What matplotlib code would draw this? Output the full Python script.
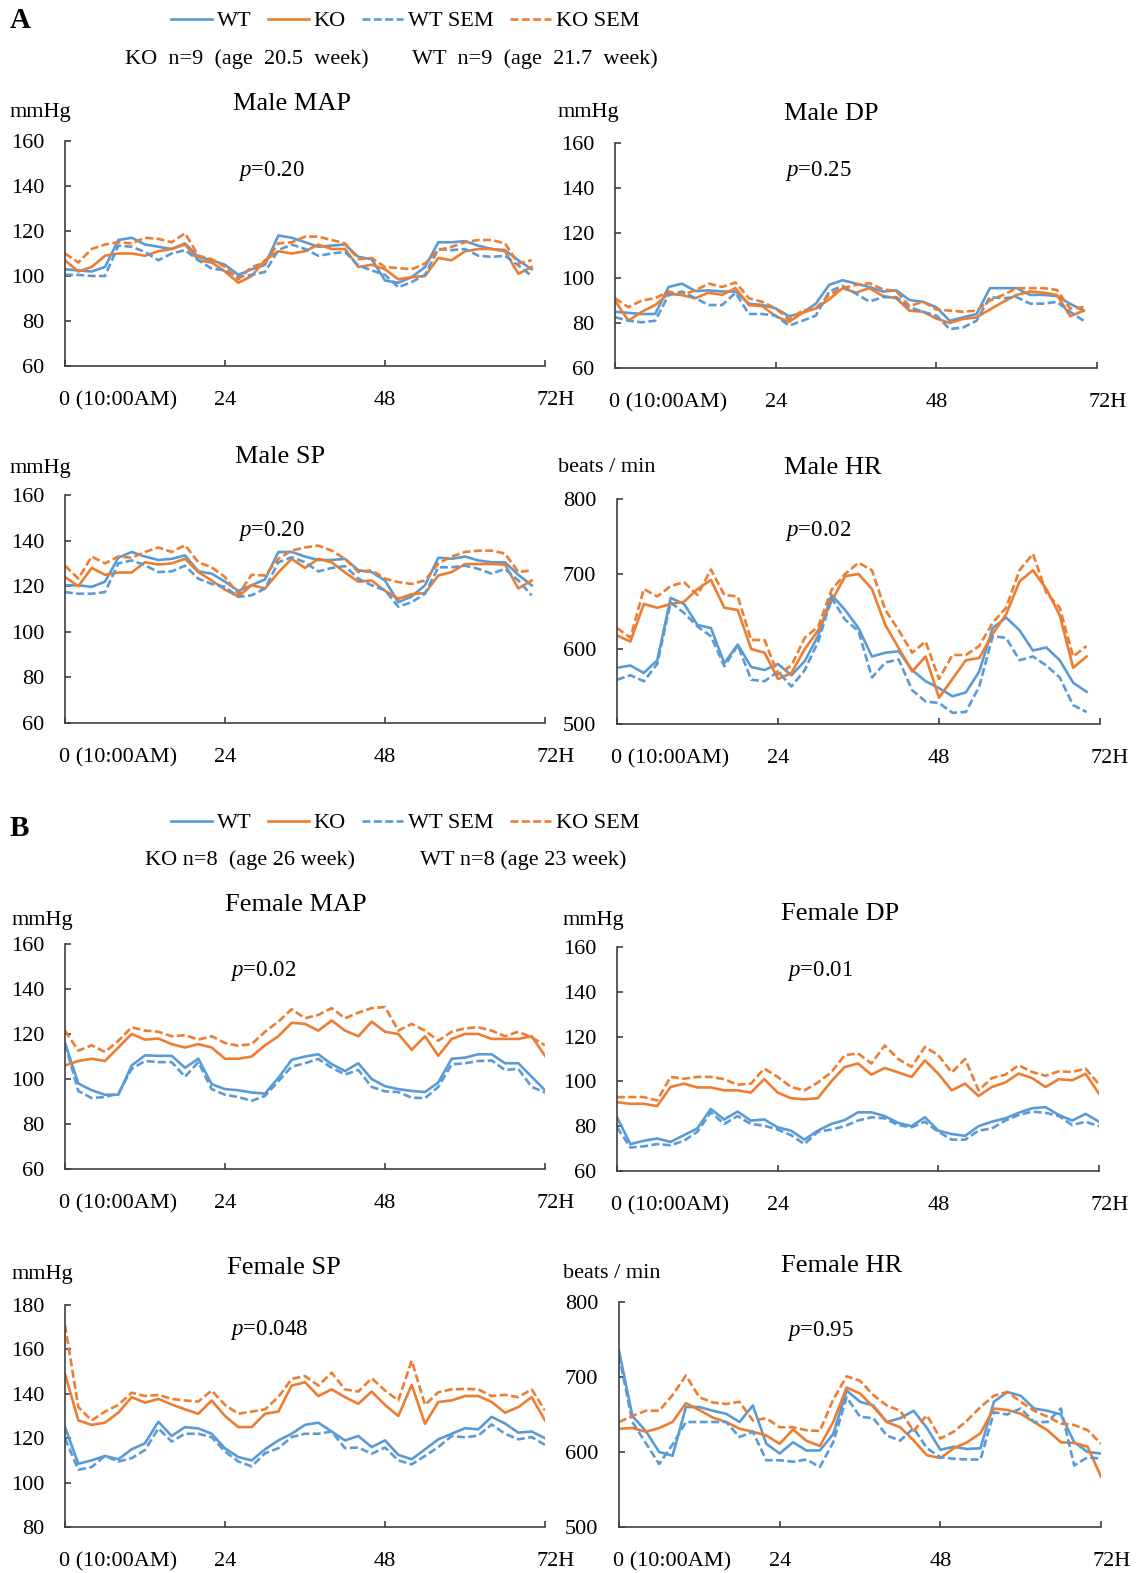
import numpy as np
import matplotlib
matplotlib.use('Agg')
import matplotlib.pyplot as plt
import matplotlib.transforms as mtransforms
from matplotlib.lines import Line2D

plt.rcParams['font.family'] = ['Liberation Serif', 'DejaVu Serif']
plt.rcParams['mathtext.fontset'] = 'custom'
plt.rcParams['mathtext.rm'] = 'Liberation Serif'
plt.rcParams['mathtext.it'] = 'Liberation Serif:italic'

# ---------------- data (hours from 10:00 AM) ----------------
hours_male = np.arange(0, 71, 2)
hours_female = np.arange(0, 73, 2)

male_map_wt = [103, 102.5, 102, 104, 116, 117, 114, 113, 112, 114.5, 108.5, 107, 105, 100.5, 103, 105, 118, 117,
               115, 113, 113.5, 114, 108.5, 107.5, 98, 97, 99.5, 104, 115, 115, 115.5, 113.5, 112, 111.5, 107, 103]
male_map_ko = [107, 102, 104, 109, 110, 110, 109, 111, 112, 114, 107, 106, 102, 97, 100, 107, 111, 110,
               111, 114, 112, 112, 104, 105, 103, 98.5, 99.5, 100, 108, 107, 111, 112, 112, 111, 101, 104]
male_map_wt_sem = [100.5, 100.5, 100, 100, 113.5, 113, 110.7, 107, 110, 111.5, 107, 103.3, 102.5, 99.6, 100.5, 101.8,
                   111.5, 114, 112, 109, 110, 110.7, 104.7, 102.5, 100.5, 95, 97.3, 100.5, 112, 111.5, 112, 109,
                   108.5, 109, 104.7, 100]
male_map_ko_sem = [110, 106, 112, 114, 115, 114.5, 117, 116.5, 115, 119, 109, 107.5, 104, 98.5, 104, 106, 114.5,
                   115, 117.5, 117.5, 116, 114.5, 107.5, 108, 104, 103.5, 103, 105.5, 111.5, 113, 115, 116, 116,
                   114.5, 105.5, 107]

male_dp_wt = [85, 84.5, 84, 84, 96, 97.5, 94.2, 94.5, 94, 94, 88.6, 88, 86.5, 83, 84.5, 88.6, 97, 99, 97.5, 96,
              94, 94.5, 90.2, 89.4, 87, 81, 82.5, 84, 95.5, 95.5, 95.5, 92.5, 92.5, 92, 88.5, 85.5]
male_dp_ko = [90, 81, 85, 88, 93, 92.4, 91, 93.5, 92.5, 95.5, 88, 87.5, 83, 80.5, 84.5, 86.5, 90.5, 95.5, 93.5,
              95.5, 92, 91, 85.5, 85, 82, 80, 81.8, 82.5, 86, 89.4, 92.5, 94, 93.5, 92.5, 83, 85.5]
male_dp_wt_sem = [82.6, 81, 80.3, 81, 92.4, 94, 91, 88, 88, 93.4, 84, 84, 83.3, 78.8, 81, 83.3, 94, 96.5, 93,
                  89.5, 91.5, 91.5, 87, 85, 83.3, 77.3, 78, 81, 91.5, 91, 91.5, 88.6, 88.6, 89.4, 85, 81]
male_dp_ko_sem = [91, 87, 90, 91, 94, 92.5, 94.5, 97.5, 96, 98, 91, 89.4, 86.5, 81.5, 85.5, 86.5, 92.5, 95.5, 97,
                  97.7, 95, 94.2, 87.5, 89.5, 86, 85.5, 85, 85.5, 90, 92.5, 95.5, 95.5, 95.5, 94.7, 86.4, 87]

male_sp_wt = [120.4, 120.4, 119.7, 122, 132.5, 135, 133, 131.5, 132, 133.5, 126.5, 125.5, 122, 118, 120.4, 123,
              135, 135, 133, 131.5, 131.5, 132, 127, 126.2, 122.5, 113, 115.5, 120.4, 132.5, 132, 133, 131.3,
              130.5, 130.5, 125, 120.4]
male_sp_ko = [124, 120, 128, 125, 126, 126, 130.5, 129.5, 130, 132, 126.2, 122.5, 118.5, 115.5, 120.5, 119, 126,
              132, 128, 132, 130.5, 126, 122, 122.5, 118, 114.5, 116.5, 117, 124.7, 126.2, 129.7, 129.7, 129.7,
              129.5, 119, 122.5]
male_sp_wt_sem = [117.4, 116.7, 116.7, 117.4, 130, 131.3, 129.2, 126.2, 126.5, 129, 123.3, 121, 119.7, 115.3, 116,
                  119, 130.5, 132.7, 130.5, 126.5, 128, 128.8, 123.3, 120.4, 118.2, 111, 113, 116.7, 128.3, 128.3,
                  129, 127.6, 125.5, 127.6, 122.5, 116]
male_sp_ko_sem = [129, 123.3, 133, 130, 133, 132.5, 135, 137, 135, 138, 130.5, 128.3, 124, 116.5, 125, 124.7, 132,
                  135.6, 137, 137.8, 135.6, 132, 126.2, 127, 123.3, 121.8, 121, 122.5, 130, 133, 135, 135.6, 135.6,
                  134.3, 126.2, 127]

male_hr_wt = [575, 578, 568, 585, 668, 660, 632, 628, 581, 606, 576, 572, 580, 565, 584, 618, 672, 652, 628, 590,
              595, 597, 572, 557, 548, 537, 542, 570, 628, 642, 625, 598, 602, 585, 555, 543]
male_hr_ko = [618, 610, 660, 655, 660, 663, 680, 692, 655, 652, 600, 595, 560, 568, 600, 625, 664, 697, 700, 680,
              632, 601, 570, 590, 535, 560, 585, 588, 620, 646, 690, 705, 680, 645, 575, 590]
male_hr_wt_sem = [559, 565, 557, 580, 662, 648, 630, 617, 577, 605, 559, 557, 570, 550, 572, 610, 668, 639, 624,
                  562, 582, 586, 545, 530, 528, 515, 516, 550, 617, 615, 585, 590, 578, 562, 525, 516]
male_hr_ko_sem = [628, 615, 680, 670, 684, 689, 672, 706, 672, 670, 612, 612, 566, 578, 615, 630, 679, 700, 715,
                  705, 652, 625, 595, 610, 560, 592, 592, 604, 635, 655, 705, 727, 675, 655, 590, 604]

female_map_wt = [116, 98, 95, 93, 93, 106, 110.5, 110.3, 110.3, 105, 109, 97.7, 95.5, 95, 94, 93.5, 100.5, 108.5,
                 110, 111, 106.6, 103.5, 107, 100, 96.8, 95.5, 94.7, 94.2, 98.5, 109, 109.5, 111, 111, 107, 107,
                 101, 95]
female_map_ko = [106, 108, 109, 108, 114, 120, 117.5, 118, 115.5, 114, 115.5, 114, 109, 109, 110, 115, 119, 125,
                 124.5, 121.5, 126, 121.5, 119, 125.5, 121, 120, 113, 119, 110.3, 117.8, 120, 120, 117.8, 117.8,
                 117.8, 119, 110.3]
female_map_wt_sem = [115.5, 94.7, 91.5, 92, 93.5, 104.5, 108, 107.5, 107.5, 101, 107.5, 95.5, 93, 92, 90.3, 92.5,
                     99, 105.5, 107, 108.9, 105, 102, 104, 96.5, 94.5, 94.2, 91.7, 91.5, 96.5, 106.5, 107, 108,
                     108.2, 104, 104.5, 96.5, 94]
female_map_ko_sem = [121.5, 112.6, 115, 112, 117, 123, 121.5, 121, 119, 119.5, 117.5, 119, 116, 114.8, 115.5, 121,
                     125.5, 131, 127, 128.5, 131.5, 127, 129.5, 131.5, 132, 121.5, 124.5, 121.5, 117, 121, 122.5,
                     123, 121.5, 119, 121, 118.5, 115]

female_dp_wt = [84, 72, 73.5, 74.5, 73, 76, 79, 87.7, 83, 86.5, 82.5, 83, 79.5, 78, 74, 78, 81, 82.7, 86.2, 86.2,
                84.5, 81.5, 80, 84, 78, 76.5, 75.7, 80, 82, 83.5, 86, 88, 88.5, 85, 82.5, 85.5, 82]
female_dp_ko = [90.7, 90, 90, 89, 97.5, 99, 97.3, 97.3, 96, 96, 95, 101, 95, 92.5, 92, 92.5, 100, 106.4, 108, 103,
                106, 104, 102, 109.4, 103.4, 96, 99, 93.5, 97.5, 99.5, 103.5, 101.5, 97.5, 101, 100.5, 103.4, 94.5]
female_dp_wt_sem = [79.5, 70.5, 71, 72, 71.5, 73.5, 77.5, 86.2, 81, 84.5, 81, 80.2, 78.5, 76, 72, 77.5, 78.5, 80,
                    82.5, 84, 83.5, 80.5, 79.5, 82, 77.5, 74, 74, 78, 79, 82.5, 85, 86.5, 86, 84.5, 80.5, 82, 80]
female_dp_ko_sem = [93, 93, 93, 91.5, 102, 101.2, 102, 102, 101, 98.5, 99, 105.7, 102, 97.5, 96, 99.5, 104, 111.7,
                    112.5, 108, 116, 110, 106.5, 115.4, 111.7, 104, 110, 96, 101.5, 103, 107.2, 104.2, 102.5,
                    104.5, 104.2, 105.7, 98.7]

female_sp_wt = [125, 108.5, 110, 112, 110.5, 115, 117.7, 127.4, 121, 125, 124.4, 122, 115.4, 111.5, 110, 115, 119,
                122, 126, 127, 123, 119, 121, 116, 119, 112.5, 110.5, 115, 119.5, 122, 124.5, 124, 129.6, 126.6,
                122.5, 123, 120]
female_sp_ko = [149, 128, 126, 127, 131.5, 138.5, 136, 137.7, 135.2, 133, 131, 137, 130, 125, 125, 131, 132, 143.7,
                145.2, 139, 142, 138.5, 135.5, 141, 135, 130, 144, 126.5, 136.3, 137, 139, 139, 136.3, 131.5, 134,
                138.5, 128]
female_sp_wt_sem = [120, 105.8, 107, 112, 109.5, 111, 114.7, 124.4, 118.5, 122, 122, 120.4, 114, 109.5, 107.3,
                    113.2, 115.5, 120.5, 122, 122, 123, 115.5, 115.8, 113, 115.8, 110, 108.2, 112, 116, 121, 120.4,
                    121.2, 126.2, 122, 119.5, 120.5, 117]
female_sp_ko_sem = [171, 134, 128, 132, 135, 140.5, 139, 139.5, 137.7, 137, 136.5, 141.5, 135, 131, 132, 133, 138.5,
                    146.7, 148, 143.7, 149.5, 142, 141, 147, 141.5, 137, 155, 135, 140.7, 142, 142.2, 142, 139,
                    139.5, 138.5, 142, 132.5]

female_hr_wt = [735, 648, 628, 600, 595, 660, 660, 655, 651, 640, 662, 611, 598, 613, 602, 602, 624, 682, 667, 662,
                640, 645, 655, 632, 603, 607, 604, 605, 667, 680, 675, 658, 655, 650, 613, 600, 598]
female_hr_ko = [631, 632, 627, 632, 640, 665, 656, 646, 640, 631, 627, 622, 611, 630, 615, 608, 640, 686, 678, 660,
                640, 633, 615.6, 595.6, 592, 605, 613, 625, 658, 656, 651, 640, 629, 613, 612, 607, 567]
female_hr_wt_sem = [729, 640, 612, 584, 610, 640, 640, 640, 640, 620, 627, 589, 589, 587, 590, 580, 613, 673, 647,
                    645, 622, 615, 632, 605, 593, 591, 590, 590, 653, 650, 658, 640, 640, 658, 582, 593, 591]
female_hr_ko_sem = [640, 648, 655, 655, 676, 702, 673, 666, 664, 667, 642, 645, 633, 633, 629, 628, 670, 701, 695,
                    676, 662, 655, 628, 649, 618, 627, 642, 660, 675, 680, 667, 655, 647, 638, 636, 629, 611]

series_labels = ['WT', 'KO', 'WT SEM', 'KO SEM']
x_tick_values = [0, 24, 48, 72]
x_tick_labels = ['0 (10:00AM)', '24', '48', '72H']

# ---------------- style ----------------
W, H = 1137, 1573
BLUE = '#5B9BD5'
ORANGE = '#ED7D31'
AXC = '#404040'
LW = 1.9
DASH = (0, (3.0, 1.3))
styles = [dict(color=BLUE, lw=LW, ls='-'), dict(color=ORANGE, lw=LW, ls='-'),
          dict(color=BLUE, lw=LW, ls=DASH), dict(color=ORANGE, lw=LW, ls=DASH)]
TY = 3  # vertical text offset in px

fig = plt.figure(figsize=(W / 100, H / 100), dpi=100)


def P(x, y):
    return x / W, 1 - (y + TY) / H


def rect(x0, ytop, x1, ybot):
    return [x0 / W, 1 - ybot / H, (x1 - x0) / W, (ybot - ytop) / H]


panels = [
    (hours_male, [male_map_wt, male_map_ko, male_map_wt_sem, male_map_ko_sem], (60, 160), 20,
     rect(65, 141, 545, 366), 'Male MAP', (292, 101), 'mmHg', (10, 110), '0.20', (238, 168)),
    (hours_male, [male_dp_wt, male_dp_ko, male_dp_wt_sem, male_dp_ko_sem], (60, 160), 20,
     rect(615, 143, 1097, 368), 'Male DP', (831, 111), 'mmHg', (558, 110), '0.25', (785, 168)),
    (hours_male, [male_sp_wt, male_sp_ko, male_sp_wt_sem, male_sp_ko_sem], (60, 160), 20,
     rect(65, 495, 545, 723), 'Male SP', (280, 454), 'mmHg', (10, 465), '0.20', (238, 528)),
    (hours_male, [male_hr_wt, male_hr_ko, male_hr_wt_sem, male_hr_ko_sem], (500, 800), 100,
     rect(617, 499, 1100, 724), 'Male HR', (833, 465), 'beats / min', (558, 465), '0.02', (785, 528)),
    (hours_female, [female_map_wt, female_map_ko, female_map_wt_sem, female_map_ko_sem], (60, 160), 20,
     rect(65, 944, 545, 1169), 'Female MAP', (296, 902), 'mmHg', (12, 917), '0.02', (230, 968)),
    (hours_female, [female_dp_wt, female_dp_ko, female_dp_wt_sem, female_dp_ko_sem], (60, 160), 20,
     rect(617, 947, 1099, 1171), 'Female DP', (840, 911), 'mmHg', (563, 917), '0.01', (787, 968)),
    (hours_female, [female_sp_wt, female_sp_ko, female_sp_wt_sem, female_sp_ko_sem], (80, 180), 20,
     rect(65, 1305, 545, 1527), 'Female SP', (284, 1265), 'mmHg', (12, 1272), '0.048', (230, 1327)),
    (hours_female, [female_hr_wt, female_hr_ko, female_hr_wt_sem, female_hr_ko_sem], (500, 800), 100,
     rect(619, 1302, 1101, 1527), 'Female HR', (842, 1263), 'beats / min', (563, 1271), '0.95', (787, 1328)),
]

for hrs, ser, ylim, ystep, r, title, tpos, unit, upos, pval, ppos in panels:
    ax = fig.add_axes(r)
    for s, st in zip(ser, styles):
        ax.plot(hrs, s, solid_joinstyle='round', dash_capstyle='butt', **st)
    ax.set_xlim(0, 72)
    ax.set_ylim(*ylim)
    ax.set_yticks(np.arange(ylim[0], ylim[1] + 1, ystep))
    ax.set_xticks(x_tick_values)
    ax.set_xticklabels(x_tick_labels)
    for sp in ['top', 'right']:
        ax.spines[sp].set_visible(False)
    for sp in ['left', 'bottom']:
        ax.spines[sp].set_color(AXC)
        ax.spines[sp].set_linewidth(1.2)
    ax.tick_params(axis='both', direction='in', length=4, width=1.2, color=AXC,
                   labelsize=16, labelcolor='black')
    ax.tick_params(axis='y', pad=15)
    ax.tick_params(axis='x', pad=18)
    ax.patch.set_visible(False)
    labs = ax.get_xticklabels()
    labs[0].set_ha('left')
    labs[0].set_transform(labs[0].get_transform() +
                          mtransforms.ScaledTranslation(-6 / 100, 0, fig.dpi_scale_trans))
    labs[3].set_ha('left')
    labs[3].set_transform(labs[3].get_transform() +
                          mtransforms.ScaledTranslation(-9 / 100, 0, fig.dpi_scale_trans))
    fig.text(*P(*tpos), title, fontsize=19, ha='center', va='center')
    fig.text(*P(*upos), unit, fontsize=16, ha='left', va='center')
    fig.text(*P(*ppos), r'$\it{p}$=' + pval, fontsize=16.5, ha='left', va='center')

# panel letters
fig.text(*P(10, 18), 'A', fontsize=21, fontweight='bold', ha='left', va='center')
fig.text(*P(10, 826), 'B', fontsize=21, fontweight='bold', ha='left', va='center')

# legends
handles = [Line2D([], [], **st) for st in styles]
for ly in (18, 820):
    fig.legend(handles, series_labels, loc='center left', bbox_to_anchor=P(171, ly), ncol=4,
               frameon=False, fontsize=16, handlelength=1.85, handletextpad=0.2,
               columnspacing=0.75, borderpad=0, borderaxespad=0)

fig.text(*P(125, 56), 'KO  n=9  (age  20.5  week)', fontsize=16, ha='left', va='center')
fig.text(*P(412, 56), 'WT  n=9  (age  21.7  week)', fontsize=16, ha='left', va='center')
fig.text(*P(145, 857), 'KO n=8  (age 26 week)', fontsize=16, ha='left', va='center')
fig.text(*P(420, 857), 'WT n=8 (age 23 week)', fontsize=16, ha='left', va='center')

fig.savefig('out.png', dpi=100)
